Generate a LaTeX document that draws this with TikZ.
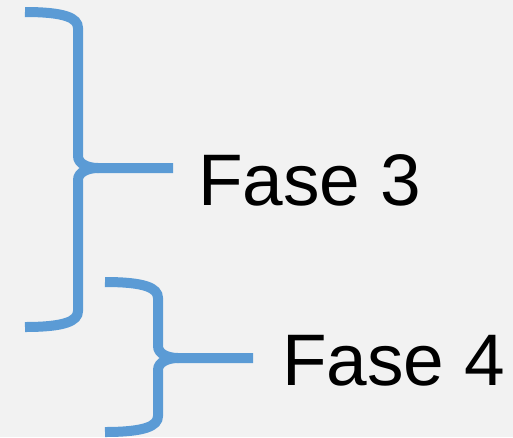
\documentclass[tikz,border=0pt]{standalone}
\usepackage{fontspec}
\setmainfont{Liberation Sans}
\definecolor{bracecol}{HTML}{5B9BD5}
\definecolor{bgcol}{HTML}{F2F2F2}

\begin{document}
\begin{tikzpicture}[x=1pt,y=-1pt, brace/.style={draw=bracecol, line width=10pt}, lbl/.style={anchor=base west, inner sep=0pt, font=\fontsize{73}{80}\selectfont}]
    \fill[bgcol] (0,0) rectangle (513,437);
    \useasboundingbox (0,0) rectangle (513,437);

    \node[lbl] (f3) at (198,205) {Fase 3};
    \node[lbl] (f4) at (282,385) {Fase 4};

    \coordinate (t3) at (25,12);
    \coordinate (u3) at (78,28);
    \coordinate (v3) at (78,156);
    \coordinate (m3) at (98,168);
    \coordinate (w3) at (78,180);
    \coordinate (x3) at (78,311);
    \coordinate (e3) at (173,168);
    \coordinate (b3) at (25,327);

    \coordinate (t4) at (105,282);
    \coordinate (u4) at (158,298);
    \coordinate (v4) at (158,346);
    \coordinate (m4) at (178,358);
    \coordinate (w4) at (158,370);
    \coordinate (x4) at (158,416);
    \coordinate (e4) at (253,358);
    \coordinate (b4) at (105,432);

    % brace of Fase 3
    \draw[brace] (t3) .. controls +(40,0) and +(0,-10) .. (u3) -- (v3)
        .. controls +(0,8) and +(-10,0) .. (m3) -- (e3);
    \draw[brace] (m3) .. controls +(-10,0) and +(0,-8) .. (w3) -- (x3)
        .. controls +(0,10) and +(40,0) .. (b3);

    % brace of Fase 4
    \draw[brace] (t4) .. controls +(40,0) and +(0,-10) .. (u4) -- (v4)
        .. controls +(0,8) and +(-10,0) .. (m4) -- (e4);
    \draw[brace] (m4) .. controls +(-10,0) and +(0,-8) .. (w4) -- (x4)
        .. controls +(0,10) and +(40,0) .. (b4);
\end{tikzpicture}
\end{document}
